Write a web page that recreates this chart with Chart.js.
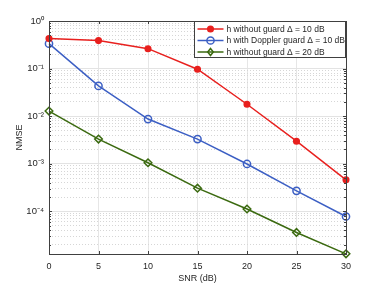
<!DOCTYPE html>
<html>
<head>
<meta charset="utf-8">
<script src="https://cdn.jsdelivr.net/npm/chart.js@4/dist/chart.umd.min.js"></script>
<style>
html,body{margin:0;padding:0;background:#fff;}
#wrap{width:382px;height:286px;position:relative;}
</style>
</head>
<body>
<div id="wrap"><canvas id="c" width="382" height="286"></canvas></div>
<script>
// ---- data ----
const snr = [0, 5, 10, 15, 20, 25, 30];
const seriesLabels = [
  'h without guard \u0394 = 10 dB',
  'h with Doppler guard \u0394 = 10 dB',
  'h without guard \u0394 = 20 dB'
];
const nmseNoGuard10 = [0.427, 0.387, 0.262, 0.097, 0.0178, 0.00298, 0.00046];
const nmseDopplerGuard10 = [0.334, 0.0433, 0.0087, 0.0033, 0.00099, 0.00027, 0.000078];
const nmseNoGuard20 = [0.0128, 0.0033, 0.00105, 0.000307, 0.000112, 0.000036, 0.0000128];
const xTicks = [0, 5, 10, 15, 20, 25, 30];
const yTickValues = [1e-4, 1e-3, 1e-2, 1e-1, 1];
const yTickLabels = ['10\u207B\u2074', '10\u207B\u00B3', '10\u207B\u00B2', '10\u207B\u00B9', '10\u2070'];
const yMin = 1.27e-5, yMax = 1;

const colors = ['#e8201e', '#3c5fc4', '#3b6a10'];
const styles = ['circle', 'circle', 'rectRot'];
const fills = [colors[0], 'rgba(0,0,0,0)', 'rgba(0,0,0,0)'];
const radii = [2.8, 3.6, 3.8];

function minorValues(){
  const out = [];
  for (let e = -5; e <= 0; e++) {
    for (let k = 2; k <= 9; k++) {
      const v = k * Math.pow(10, e);
      if (v >= yMin && v <= yMax) out.push(v);
    }
  }
  return out;
}

const font = "'Liberation Sans', Arial, sans-serif";
const axisCol = '#404040';
const textCol = '#262626';

const boxPlugin = {
  id: 'boxPlugin',
  afterDraw(chart) {
    const ctx = chart.ctx, a = chart.chartArea;
    const ys = chart.scales.y, xs = chart.scales.x;
    ctx.save();
    ctx.strokeStyle = axisCol;
    ctx.lineWidth = 1;
    ctx.strokeRect(Math.round(a.left) + 0.5, Math.round(a.top) + 0.5, Math.round(a.right - a.left), Math.round(a.bottom - a.top));
    // inside ticks
    ctx.beginPath();
    yTickValues.forEach(v => {
      const y = Math.round(ys.getPixelForValue(v)) + 0.5;
      ctx.moveTo(a.left, y); ctx.lineTo(a.left + 3, y);
      ctx.moveTo(a.right, y); ctx.lineTo(a.right - 3, y);
    });
    minorValues().forEach(v => {
      const y = Math.round(ys.getPixelForValue(v)) + 0.5;
      ctx.moveTo(a.left, y); ctx.lineTo(a.left + 2, y);
      ctx.moveTo(a.right, y); ctx.lineTo(a.right - 2, y);
    });
    xTicks.forEach(v => {
      const x = Math.round(xs.getPixelForValue(v)) + 0.5;
      ctx.moveTo(x, a.bottom); ctx.lineTo(x, a.bottom - 3);
      ctx.moveTo(x, a.top); ctx.lineTo(x, a.top + 3);
    });
    ctx.stroke();

    // legend
    const lw = 151, lh = 36;
    const lx = Math.round(a.right) - lw - 1 + 0.5, ly = Math.round(a.top) + 0.5;
    ctx.fillStyle = '#fff';
    ctx.fillRect(lx, ly, lw, lh);
    ctx.strokeStyle = '#404040';
    ctx.strokeRect(lx, ly, lw, lh);
    ctx.font = '8.5px ' + font;
    ctx.textBaseline = 'middle';
    ctx.textAlign = 'left';
    chart.data.datasets.forEach((ds, i) => {
      const cy = ly + 7.5 + i * 11.5;
      ctx.strokeStyle = ds.borderColor;
      ctx.lineWidth = 1.5;
      ctx.beginPath();
      ctx.moveTo(lx + 3, cy); ctx.lineTo(lx + 29, cy);
      ctx.stroke();
      const mx = lx + 16;
      ctx.lineWidth = 1.5;
      ctx.beginPath();
      if (ds.pointStyle === 'rectRot') {
        const r = 3.5;
        ctx.moveTo(mx, cy - r); ctx.lineTo(mx + r*0.8, cy); ctx.lineTo(mx, cy + r); ctx.lineTo(mx - r*0.8, cy); ctx.closePath();
      } else {
        ctx.arc(mx, cy, ds.pointRadius, 0, Math.PI * 2);
      }
      if (ds.pointBackgroundColor !== 'rgba(0,0,0,0)') { ctx.fillStyle = ds.pointBackgroundColor; ctx.fill(); }
      ctx.stroke();
      ctx.fillStyle = textCol;
      ctx.fillText(ds.label, lx + 32, cy + 0.5);
    });
    ctx.restore();
  }
};

const datasetsSrc = [nmseNoGuard10, nmseDopplerGuard10, nmseNoGuard20];
const datasets = datasetsSrc.map((vals, i) => ({
  label: seriesLabels[i],
  data: snr.map((x, j) => ({x: x, y: vals[j]})),
  borderColor: colors[i],
  backgroundColor: colors[i],
  pointBackgroundColor: fills[i],
  pointBorderColor: colors[i],
  pointStyle: styles[i],
  pointRadius: radii[i],
  pointBorderWidth: 1.5,
  borderWidth: 1.5,
  tension: 0,
  clip: false
}));

new Chart(document.getElementById('c'), {
  type: 'line',
  data: { datasets },
  options: {
    responsive: false,
    animation: false,
    devicePixelRatio: 1,
    layout: { padding: { left: 14, top: 21, right: 36, bottom: 0 } },
    plugins: { legend: { display: false }, tooltip: { enabled: false } },
    scales: {
      x: {
        type: 'linear', min: 0, max: 30,
        afterBuildTicks: s => { s.ticks = xTicks.map(v => ({value: v})); },
        afterFit: s => { s.height = 32; },
        grid: { color: '#e6e6e6', lineWidth: 1, drawTicks: false },
        border: { display: false },
        ticks: { color: textCol, font: { family: font, size: 9 }, padding: 7, maxRotation: 0 },
        title: { display: true, text: 'SNR (dB)', color: textCol, font: { family: font, size: 9 }, padding: { top: 0, bottom: 2 } }
      },
      y: {
        type: 'logarithmic', min: yMin, max: yMax, position: 'left',
        afterBuildTicks: s => { s.ticks = yTickValues.map(v => ({value: v})); },
        afterFit: s => { s.width = 35; },
        grid: { color: '#e3e3e3', lineWidth: 1, drawTicks: false },
        border: { display: false },
        ticks: {
          color: textCol, font: { family: font, size: 9.5 }, padding: 5,
          callback: (v) => { const i = yTickValues.findIndex(t => Math.abs(t - v) / t < 1e-6); return i >= 0 ? yTickLabels[i] : ''; }
        },
        title: { display: true, text: 'NMSE', color: textCol, font: { family: font, size: 9 }, padding: { top: 0, bottom: 0 } }
      },
      y2: {
        type: 'logarithmic', min: yMin, max: yMax, position: 'left',
        afterBuildTicks: s => { s.ticks = minorValues().map(v => ({value: v})); },
        afterFit: s => { s.width = 0; },
        grid: { color: '#d6d6d6', lineWidth: 1, drawTicks: false },
        border: { display: false, dash: [1, 2] },
        ticks: { display: false }
      }
    }
  },
  plugins: [boxPlugin]
});
</script>
</body>
</html>
